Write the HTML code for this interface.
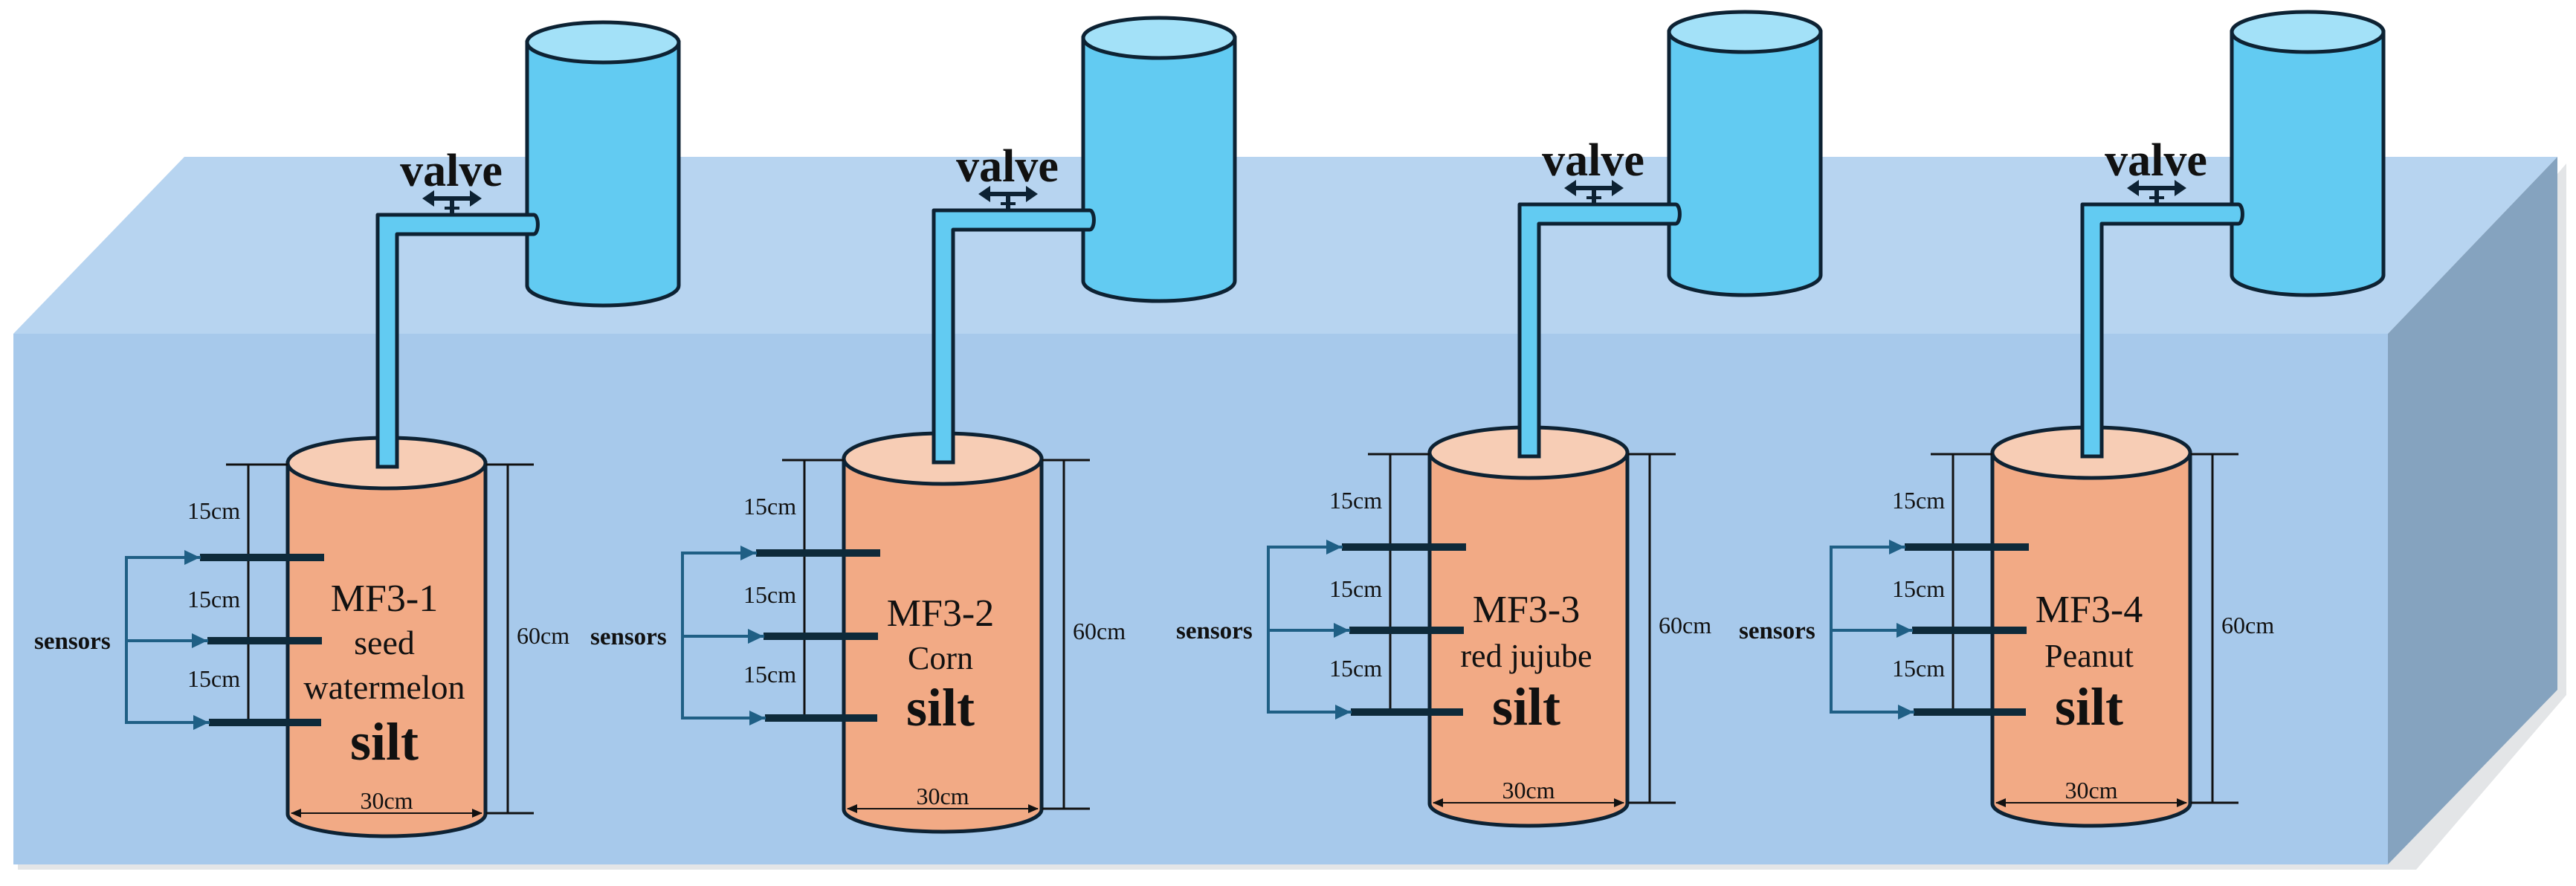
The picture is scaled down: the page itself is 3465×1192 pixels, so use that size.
<!DOCTYPE html>
<html><head><meta charset="utf-8"><style>
html,body{margin:0;padding:0;background:#fff;}
svg{display:block;}
svg text{font-family:"Liberation Serif","Times New Roman","DejaVu Serif",serif !important;fill:#111;}
</style></head><body>
<svg width="3465" height="1192" viewBox="0 0 3465 1192" xmlns="http://www.w3.org/2000/svg" font-family="'Liberation Serif', 'DejaVu Serif', serif">
<defs>
<marker id="ak" markerWidth="14" markerHeight="12" refX="13" refY="6" orient="auto" markerUnits="userSpaceOnUse"><path d="M0,0 L14,6 L0,12 z" fill="#111"/></marker>
<g id="col">
  <path d="M709,57 L709,384 A102,27 0 0 0 913,384 L913,57 Z" fill="#62cbf2" stroke="#0d2233" stroke-width="5"/>
  <ellipse cx="811" cy="57" rx="102" ry="27" fill="#a3e1f8" stroke="#0d2233" stroke-width="5"/>
  <path d="M508,289 L718,289 A5,12 0 0 1 718,315 L534,315 L534,627 L508,627 Z" fill="#62cbf2" stroke="#0d2233" stroke-width="5" stroke-linejoin="round"/>
  <text x="607" y="250" font-size="62" font-weight="bold" text-anchor="middle">valve</text>
  <line x1="580" y1="267" x2="636" y2="267" stroke="#0d2233" stroke-width="6"/>
  <path d="M568,267 L584,256 L584,278 Z M648,267 L632,256 L632,278 Z" fill="#0d2233"/>
  <line x1="608" y1="267" x2="608" y2="288" stroke="#0d2233" stroke-width="6"/>
  <line x1="598" y1="280" x2="618" y2="280" stroke="#0d2233" stroke-width="4"/>
  <path d="M387,623 L387,1095 A133,30 0 0 0 653,1095 L653,623 Z" fill="#f2aa85" stroke="#0d2233" stroke-width="5"/>
  <ellipse cx="520" cy="623" rx="133" ry="34" fill="#f7cdb5" stroke="#0d2233" stroke-width="5"/>
  <rect x="508" y="580" width="26" height="48" fill="#62cbf2"/>
  <path d="M508,580 L508,628 L534,628 L534,580" fill="none" stroke="#0d2233" stroke-width="5"/>
  <line x1="304" y1="625" x2="387" y2="625" stroke="#111" stroke-width="3"/>
  <line x1="334" y1="625" x2="334" y2="970" stroke="#111" stroke-width="3"/>
  <line x1="654" y1="625" x2="718" y2="625" stroke="#111" stroke-width="3"/>
  <line x1="654" y1="1094" x2="718" y2="1094" stroke="#111" stroke-width="3"/>
  <line x1="683" y1="625" x2="683" y2="1094" stroke="#111" stroke-width="3"/>
  <text x="695" y="866" font-size="32">60cm</text>
  <text x="252" y="698" font-size="32">15cm</text>
  <text x="252" y="817" font-size="32">15cm</text>
  <text x="252" y="924" font-size="32">15cm</text>
  <line x1="520" y1="1094" x2="392" y2="1094" stroke="#111" stroke-width="2" marker-end="url(#ak)"/>
  <line x1="520" y1="1094" x2="648" y2="1094" stroke="#111" stroke-width="2" marker-end="url(#ak)"/>
  <text x="520" y="1088" font-size="32" text-anchor="middle">30cm</text>
  <line x1="269" y1="750" x2="436" y2="750" stroke="#0e2a3a" stroke-width="10"/>
  <line x1="279" y1="862" x2="433" y2="862" stroke="#0e2a3a" stroke-width="10"/>
  <line x1="281" y1="972" x2="432" y2="972" stroke="#0e2a3a" stroke-width="10"/>
  <path d="M270,750 L170,750 L170,972 L282,972 M170,862 L280,862" fill="none" stroke="#1f5f85" stroke-width="4"/>
  <path d="M269,750 L248,740 L248,760 Z M279,862 L258,852 L258,872 Z M281,972 L260,962 L260,982 Z" fill="#1f5f85"/>
  <text x="46" y="873" font-size="33" font-weight="bold">sensors</text>
</g>
</defs>
<polygon points="24,455 3250,455 3452,220 3452,935 3250,1170 24,1170" fill="#c8ccd0" opacity="0.5"/>
<polygon points="18,449 248,211 3440,211 3212,449" fill="#b7d4f0"/>
<polygon points="3212,449 3440,211 3440,928 3212,1163" fill="#85a3bf"/>
<rect x="18" y="449" width="3194" height="714" fill="#a7c9eb"/>

<use href="#col"/>
<use href="#col" x="748" y="-6"/>
<use href="#col" x="1536" y="-14"/>
<use href="#col" x="2293" y="-14"/>

<g text-anchor="middle">
<text x="517" y="822" font-size="52">MF3-1</text>
<text x="517" y="880" font-size="46">seed</text>
<text x="517" y="940" font-size="46">watermelon</text>
<text x="517" y="1022" font-size="72" font-weight="bold">silt</text>

<text x="1265" y="842" font-size="52">MF3-2</text>
<text x="1265" y="900" font-size="44">Corn</text>
<text x="1265" y="976" font-size="72" font-weight="bold">silt</text>

<text x="2053" y="837" font-size="52">MF3-3</text>
<text x="2053" y="897" font-size="44">red jujube</text>
<text x="2053" y="975" font-size="72" font-weight="bold">silt</text>

<text x="2810" y="837" font-size="52">MF3-4</text>
<text x="2810" y="897" font-size="44">Peanut</text>
<text x="2810" y="975" font-size="72" font-weight="bold">silt</text>
</g>
</svg>
</body></html>
